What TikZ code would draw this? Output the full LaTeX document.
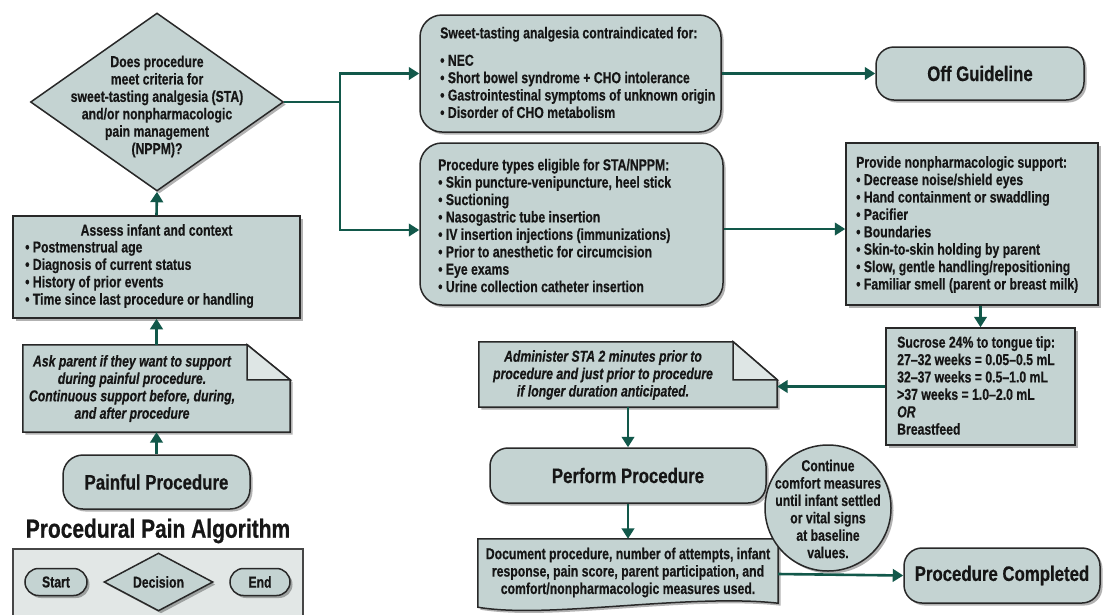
\documentclass[tikz,border=0pt]{standalone}
\usepackage{fontspec}
\setmainfont{Liberation Sans}[FakeStretch=0.80,BoldFeatures={FakeBold=0.5}]
\newfontfamily\bodyface{Liberation Sans}[FakeStretch=0.775,BoldFeatures={FakeBold=0.5},BoldItalicFeatures={FakeBold=0.5}]
\usetikzlibrary{shapes.geometric,shadows,arrows.meta,calc}

\definecolor{boxfill}{RGB}{196,211,210}
\definecolor{foldfill}{RGB}{222,230,229}
\definecolor{legendfill}{RGB}{226,231,230}
\definecolor{legendedge}{RGB}{70,70,70}
\definecolor{edge}{RGB}{40,40,40}
\definecolor{flow}{RGB}{18,88,74}
\definecolor{ink}{RGB}{22,22,22}

\setlength{\parindent}{0pt}
\newcommand{\bodyfont}{\bodyface\fontsize{15.8}{17.4}\selectfont\bfseries}
\newcommand{\headfont}{\fontsize{21}{24}\selectfont\bfseries}
\newcommand{\titlefont}{\fontsize{26.2}{28}\selectfont\bfseries}
\newcommand{\itemb}{\textbullet\ }

\tikzset{
  castshadow/.style={drop shadow={shadow xshift=2.5pt,shadow yshift=-2.5pt,opacity=0.3,fill=black}},
  panel/.style={draw=edge,line width=1.5pt,fill=boxfill,castshadow,inner sep=0pt,text=ink},
  squarebox/.style={panel,rectangle},
  roundbox/.style={panel,rectangle,rounded corners=20pt},
  pill/.style={panel,rectangle,rounded corners=13.5pt},
  decisionbox/.style={panel,diamond},
  foldcorner/.style={draw=edge,line width=1.5pt,fill=foldfill},
  words/.style={font=\bodyfont,text=ink,inner sep=0pt,align=left},
  flowline/.style={draw=flow,line width=2.6pt},
  flowarrow/.style={flowline,-{Triangle[length=10.5pt,width=12.5pt]}},
}

\begin{document}
\begin{tikzpicture}[x=1pt,y=-1pt]
\useasboundingbox (0,0) rectangle (1108,614);
\fill[white] (0,0) rectangle (1108,614);

% ---------- left column ----------
\node[decisionbox,minimum width=253pt,minimum height=178pt] (dec) at (157,102) {};
\node[words,align=center] (dec-t) at (157,106.5)
  {Does procedure\\meet criteria for\\sweet-tasting analgesia (STA)\\and/or nonpharmacologic\\pain management\\(NPPM)?};

\node[squarebox,minimum width=287pt,minimum height=102pt] (assess) at (156.5,267) {};
\node[words,align=center] (assess-h) at (156.5,230) {Assess infant and context};
\node[words,anchor=west] (assess-t) at (25,274.5)
  {\itemb Postmenstrual age\\\itemb Diagnosis of current status\\\itemb History of prior events\\\itemb Time since last procedure or handling};

% note with a folded corner
\node[minimum width=267pt,minimum height=87pt,inner sep=0pt] (ask) at (156.5,388.5) {};
\path[panel] (ask.north west) -- ([xshift=-43pt]ask.north east) -- ([yshift=-35pt]ask.north east)
  -- (ask.south east) -- (ask.south west) -- cycle;
\path[foldcorner] ([xshift=-43pt]ask.north east) -- ([xshift=-43pt,yshift=-35pt]ask.north east)
  -- ([yshift=-35pt]ask.north east) -- cycle;
\node[words,align=center,font=\bodyfont\itshape] (ask-t) at (132,388.5)
  {Ask parent if they want to support\\during painful procedure.\\Continuous support before, during,\\and after procedure};

\node[roundbox,minimum width=187pt,minimum height=54pt,font=\headfont] (pain) at (156.5,482) {Painful Procedure};

\node[font=\titlefont,text=ink,inner sep=0pt] (title) at (158,531) {Procedural Pain Algorithm};

% key of shapes
\node[draw=legendedge,line width=2pt,fill=legendfill,minimum width=290pt,minimum height=80pt,
      inner sep=0pt,anchor=north west] (key) at (12,548) {};
\node[pill,minimum width=62pt,minimum height=27pt,font=\bodyfont] (key-start) at (56,582) {Start};
\node[decisionbox,minimum width=109pt,minimum height=58pt,shape aspect=2,font=\bodyfont] (key-dec) at (158.5,582) {Decision};
\node[pill,minimum width=60pt,minimum height=27pt,font=\bodyfont] (key-end) at (260,582) {End};

% ---------- middle column ----------
\node[roundbox,rounded corners=22pt,minimum width=301pt,minimum height=117pt] (contra) at (570.5,73.5) {};
\node[words,anchor=west] (contra-t) at (440,72.5)
  {Sweet-tasting analgesia contraindicated for:\\[10pt]\itemb NEC\\\itemb Short bowel syndrome + CHO intolerance\\\itemb Gastrointestinal symptoms of unknown origin\\\itemb Disorder of CHO metabolism};

\node[roundbox,rounded corners=22pt,minimum width=303pt,minimum height=162pt] (elig) at (571.5,224) {};
\node[words,anchor=west] (elig-t) at (438,225.5)
  {Procedure types eligible for STA/NPPM:\\\itemb Skin puncture-venipuncture, heel stick\\\itemb Suctioning\\\itemb Nasogastric tube insertion\\\itemb IV insertion injections (immunizations)\\\itemb Prior to anesthetic for circumcision\\\itemb Eye exams\\\itemb Urine collection catheter insertion};

\node[minimum width=298pt,minimum height=65pt,inner sep=0pt] (admin) at (628,374.5) {};
\path[panel] (admin.north west) -- ([xshift=-44pt]admin.north east) -- ([yshift=-38pt]admin.north east)
  -- (admin.south east) -- (admin.south west) -- cycle;
\path[foldcorner] ([xshift=-44pt]admin.north east) -- ([xshift=-44pt,yshift=-38pt]admin.north east)
  -- ([yshift=-38pt]admin.north east) -- cycle;
\node[words,align=center,font=\bodyfont\itshape] (admin-t) at (603,375)
  {Administer STA 2 minutes prior to\\procedure and just prior to procedure\\if longer duration anticipated.};

\node[roundbox,rounded corners=18pt,minimum width=276pt,minimum height=55pt,font=\headfont] (perf) at (628,475.5) {Perform Procedure};

% document shape with a wavy lower edge
\node[minimum width=300pt,minimum height=70pt,inner sep=0pt] (doc) at (628,574) {};
\path[panel] (doc.north west) -- (doc.north east) -- ([yshift=6pt]doc.south east)
  .. controls ([xshift=-90pt,yshift=16pt]doc.south east) and ([xshift=70pt,yshift=-10pt]doc.south west)
  .. ([yshift=2pt]doc.south west) -- cycle;
\node[words,align=center] (doc-t) at (628,572.5)
  {Document procedure, number of attempts, infant\\response, pain score, parent participation, and\\comfort/nonpharmacologic measures used.};

\node[panel,circle,minimum size=126pt] (cont) at (828,508) {};
\node[words,align=center] (cont-t) at (828,509)
  {Continue\\comfort measures\\until infant settled\\or vital signs\\at baseline\\values.};

% ---------- right column ----------
\node[roundbox,rounded corners=18pt,minimum width=208pt,minimum height=53pt,font=\headfont] (off) at (980,73.5) {Off Guideline};

\node[squarebox,minimum width=252pt,minimum height=162pt] (prov) at (972,224) {};
\node[words,anchor=west] (prov-t) at (856,224.5)
  {Provide nonpharmacologic support:\\\itemb Decrease noise/shield eyes\\\itemb Hand containment or swaddling\\\itemb Pacifier\\\itemb Boundaries\\\itemb Skin-to-skin holding by parent\\\itemb Slow, gentle handling/repositioning\\\itemb Familiar smell (parent or breast milk)};

\node[squarebox,minimum width=189pt,minimum height=117pt] (suc) at (980.5,386.5) {};
\node[words,anchor=west] (suc-t) at (897,385.5)
  {Sucrose 24\% to tongue tip:\\27–32 weeks = 0.05–0.5 mL\\32–37 weeks = 0.5–1.0 mL\\>37 weeks = 1.0–2.0 mL\\\textit{OR}\\Breastfeed};

\node[roundbox,rounded corners=18pt,minimum width=196pt,minimum height=55pt,font=\headfont] (done) at (1002,575.5) {Procedure Completed};

% ---------- connectors ----------
\draw[flowarrow] (pain.north) -- (ask.south);
\draw[flowarrow] (ask.north) -- (assess.south);
\draw[flowarrow] (assess.north) -- (dec.south);
\coordinate (split) at (340,102);
\draw[flowline] (dec.east) -- (split);
\draw[flowarrow] (split) |- (contra.west);
\draw[flowarrow] (split) |- ([yshift=-6pt]elig.west);
\draw[flowarrow] (contra.east) -- (off.west);
\draw[flowarrow] ([yshift=-5pt]elig.east) -- ([yshift=-5pt]prov.west);
\draw[flowarrow] (prov.south -| suc.north) -- (suc.north);
\draw[flowarrow] (suc.west) -- (suc.west -| admin.east);
\draw[flowarrow] (admin.south) -- (perf.north);
\draw[flowarrow] (perf.south) -- (doc.north);
\draw[flowarrow] (doc.east) -- (done.west);
\end{tikzpicture}
\end{document}
